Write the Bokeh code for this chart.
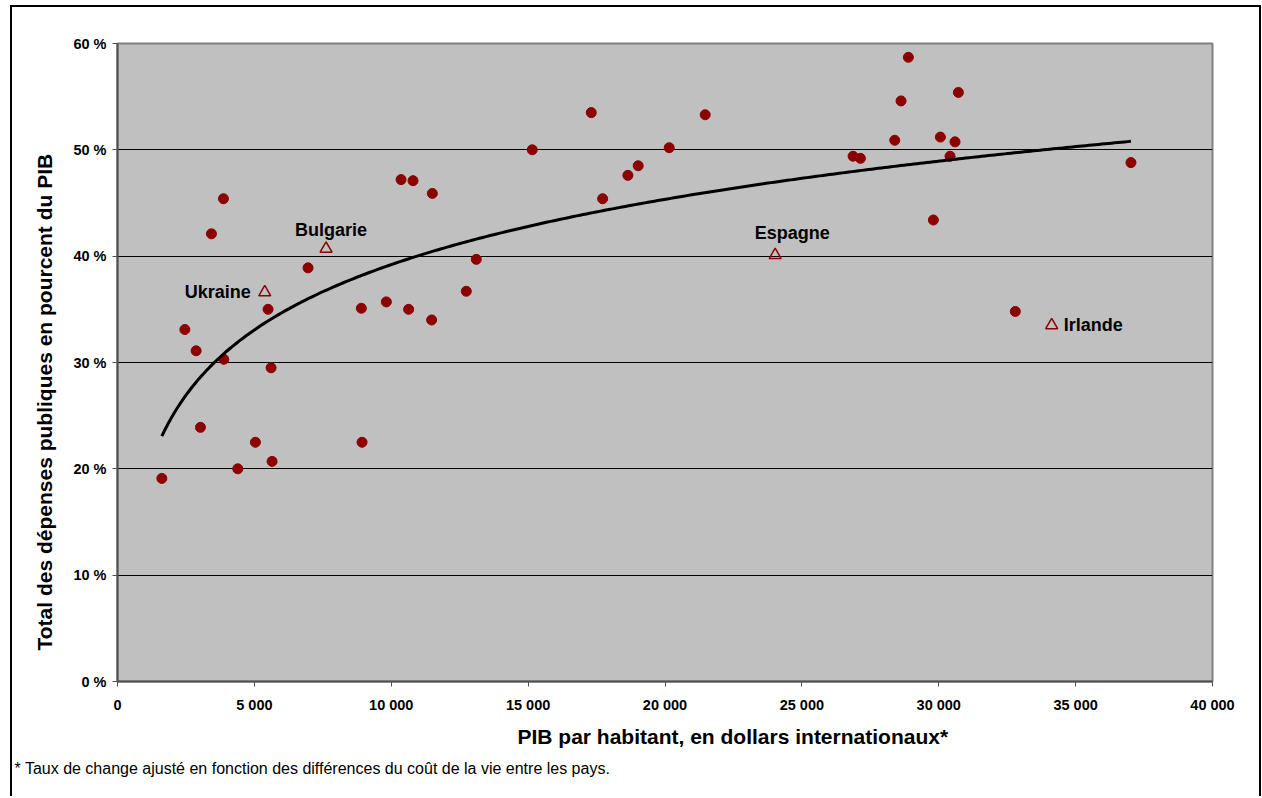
import numpy as np
from bokeh.plotting import figure
from bokeh.models import FixedTicker, Range1d, Title
from bokeh.embed import file_html
from bokeh.resources import INLINE

# ---- data -------------------------------------------------------------
gdp = [1620, 2461, 2872, 3030, 3432, 3870, 3883, 4394, 5038, 5500, 5610, 5647,
       6961, 8908, 8933, 9821, 10358, 10635, 10796, 11475, 11500, 12742, 13107,
       15151, 17306, 17722, 18645, 19021, 20153, 21468, 26871, 27139, 28393,
       28623, 28890, 29804, 30060, 30412, 30595, 30717, 32797, 37021]
spend = [19.1, 33.1, 31.1, 23.9, 42.1, 45.4, 30.3, 20.0, 22.5, 35.0, 29.5, 20.7,
         38.9, 35.1, 22.5, 35.7, 47.2, 35.0, 47.1, 34.0, 45.9, 36.7, 39.7,
         50.0, 53.5, 45.4, 47.6, 48.5, 50.2, 53.3, 49.4, 49.2, 50.9,
         54.6, 58.7, 43.4, 51.2, 49.4, 50.75, 55.4, 34.8, 48.8]

hl_names = ["Ukraine", "Bulgarie", "Espagne", "Irlande"]
hl_gdp = [5379, 7619, 24024, 34125]
hl_spend = [36.6, 40.7, 40.1, 33.5]

# logarithmic trend y = a*ln(x) + b
trend_a = 8.86
trend_b = -42.4

x_ticks = [0, 5000, 10000, 15000, 20000, 25000, 30000, 35000, 40000]
x_tick_labels = ["0", "5 000", "10 000", "15 000", "20 000", "25 000",
                 "30 000", "35 000", "40 000"]
y_ticks = [0, 10, 20, 30, 40, 50, 60]
y_tick_labels = ["0 %", "10 %", "20 %", "30 %", "40 %", "50 %", "60 %"]

x_title = "PIB par habitant, en dollars internationaux*"
y_title = "Total des dépenses publiques en pourcent du PIB"
footnote = "* Taux de change ajusté en fonction des différences du coût de la vie entre les pays."

# ---- styles -------------------------------------------------------------
FONT = "Liberation Sans"
RED = "#8c0000"
label_style = {
    "Ukraine": dict(x_offset=-14, y_offset=0, text_align="right"),
    "Bulgarie": dict(x_offset=5, y_offset=-19, text_align="center"),
    "Espagne": dict(x_offset=17, y_offset=-22, text_align="center"),
    "Irlande": dict(x_offset=12, y_offset=0, text_align="left"),
}

p = figure(width=1251, height=791,
           x_range=Range1d(0, 40000), y_range=Range1d(0, 60),
           output_backend="svg", toolbar_location=None,
           min_border_left=105, min_border_right=51,
           min_border_top=36, min_border_bottom=117,
           background_fill_color="#c0c0c0", border_fill_color="white")
p.styles = {"margin-left": "10px", "margin-top": "5px",
            "border-left": "2px solid black", "border-top": "2px solid black",
            "border-right": "2px solid black"}

p.outline_line_color = "#808080"
p.outline_line_width = 2

p.xgrid.visible = False
p.ygrid.ticker = FixedTicker(ticks=y_ticks[1:-1])
p.ygrid.grid_line_color = "black"
p.ygrid.grid_line_width = 1

p.xaxis.ticker = FixedTicker(ticks=x_ticks)
p.xaxis.major_label_overrides = dict(zip(x_ticks, x_tick_labels))
p.yaxis.ticker = FixedTicker(ticks=y_ticks)
p.yaxis.major_label_overrides = dict(zip(y_ticks, y_tick_labels))

for ax in (p.xaxis[0], p.yaxis[0]):
    ax.axis_line_color = "#505050"
    ax.axis_line_width = 2
    ax.major_tick_line_color = "#505050"
    ax.major_tick_line_width = 1
    ax.major_tick_out = 5
    ax.major_tick_in = 0
    ax.minor_tick_line_color = None
    ax.major_label_text_font = FONT
    ax.major_label_text_font_style = "bold"
    ax.major_label_text_font_size = "14.5px"
    ax.major_label_text_color = "black"
p.xaxis.major_label_standoff = 10
p.yaxis.major_label_standoff = 6

# scatter points
p.scatter(gdp, spend, marker="circle", size=10, fill_color=RED, line_color=RED)

# trend line
tx = np.linspace(min(gdp), max(gdp), 300)
ty = trend_a * np.log(tx) + trend_b
p.line(tx, ty, line_color="black", line_width=3)

# highlighted countries
p.scatter(hl_gdp, hl_spend, marker="triangle", size=12, fill_color=None,
          line_color=RED, line_width=1.5)
for name, gx, sy in zip(hl_names, hl_gdp, hl_spend):
    st = label_style[name]
    p.text(x=[gx], y=[sy], text=[name], x_offset=st["x_offset"], y_offset=st["y_offset"],
           text_align=st["text_align"], text_baseline="middle",
           text_font={"value": FONT}, text_font_style="bold",
           text_font_size="18px", text_color="black")

# titles / footnote
p.add_layout(Title(text=x_title, align="left", offset=400, standoff=15,
                   text_font=FONT, text_font_style="bold",
                   text_font_size="21px", text_color="black"), "below")
p.add_layout(Title(text=footnote, align="left", offset=-103, standoff=5,
                   text_font=FONT, text_font_style="normal",
                   text_font_size="16px", text_color="black"), "below")
p.add_layout(Title(text=y_title, align="left", offset=31, standoff=29,
                   text_font=FONT, text_font_style="bold",
                   text_font_size="21px", text_color="black"), "left")

open("out.html", "w").write(file_html(p, INLINE))
